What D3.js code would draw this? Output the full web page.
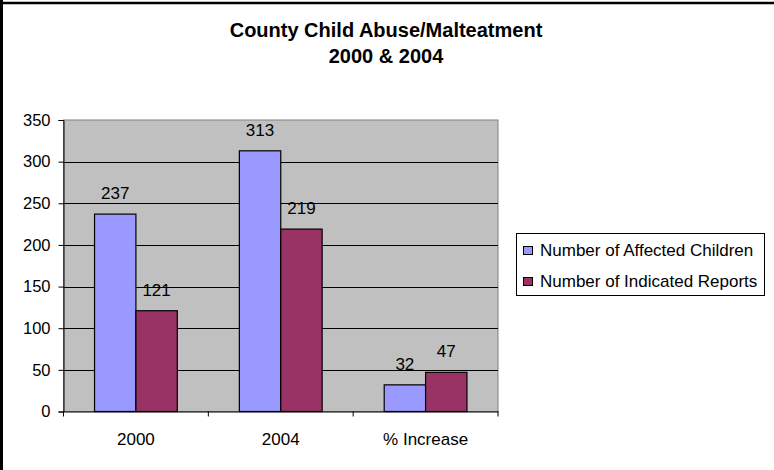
<!DOCTYPE html>
<html><head><meta charset="utf-8">
<script src="https://cdn.jsdelivr.net/npm/d3@7"></script>
<style>body{margin:0;background:#fff}svg{display:block}text{font-family:"Liberation Sans",Arial,sans-serif}</style>
</head><body><svg id="c" width="774" height="470"></svg>
<script>
const categories = ["2000", "2004", "% Increase"];
const seriesNames = ["Number of Affected Children", "Number of Indicated Reports"];
const affected = [237, 313, 32];
const indicated = [121, 219, 47];
const yTicks = [0, 50, 100, 150, 200, 250, 300, 350];
const titleLines = ["County Child Abuse/Malteatment", "2000 & 2004"];
const colors = ["#9999FF", "#993366"];

const svg = d3.select("#c");
svg.append("line").attr("x1",1.5).attr("x2",1.5).attr("y1",0).attr("y2",470).attr("stroke","#000").attr("stroke-width",3);
svg.append("line").attr("x1",0).attr("x2",774).attr("y1",3).attr("y2",3).attr("stroke","#000").attr("stroke-width",2.5);

const m = {l:63.5, r:498, t:120, b:411.5};
const x = d3.scaleBand().domain(categories).range([m.l, m.r]).paddingInner(0).paddingOuter(0);
const x1 = d3.scaleBand().domain([0,1]).range([0, x.bandwidth()]).paddingInner(0).paddingOuter(0.75);
const y = d3.scaleLinear().domain([0, 350]).range([m.b, m.t]);

svg.append("rect").attr("x",m.l).attr("y",m.t).attr("width",m.r-m.l).attr("height",m.b-m.t).attr("fill","#C0C0C0").attr("stroke","#808080").attr("stroke-width",1);

svg.append("g").selectAll("line").data(yTicks.filter(d=>d>0 && d<350)).join("line")
  .attr("x1",m.l).attr("x2",m.r).attr("y1",d=>Math.round(y(d))+0.5).attr("y2",d=>Math.round(y(d))+0.5)
  .attr("stroke","#000").attr("stroke-width",1);

const yAxis = svg.append("g").attr("transform",`translate(${m.l},0)`)
  .call(d3.axisLeft(y).tickValues(yTicks).tickSize(5).tickPadding(8));
yAxis.select(".domain").attr("stroke","#000");
yAxis.selectAll("text").attr("font-size",16.5).attr("fill","#000").attr("font-family","Liberation Sans, Arial, sans-serif");

const data = categories.map((c,i)=>({c, v:[affected[i], indicated[i]]}));
const groups = svg.append("g").selectAll("g").data(data).join("g").attr("transform",d=>`translate(${x(d.c)},0)`);
groups.selectAll("rect").data(d=>d.v.map((v,k)=>({v,k}))).join("rect")
  .attr("x",d=>x1(d.k)).attr("width",x1.bandwidth())
  .attr("y",d=>y(d.v)).attr("height",d=>m.b-y(d.v))
  .attr("fill",d=>colors[d.k]).attr("stroke","#000").attr("stroke-width",1.2);
groups.selectAll("text").data(d=>d.v.map((v,k)=>({v,k}))).join("text")
  .attr("x",d=>x1(d.k)+x1.bandwidth()/2).attr("y",d=>y(d.v)-15)
  .attr("text-anchor","middle").attr("font-size",17).attr("fill","#000").text(d=>d.v);

const xAxis = svg.append("g").attr("transform",`translate(0,${m.b})`)
  .call(d3.axisBottom(x).tickSize(0).tickPadding(21));
xAxis.select(".domain").attr("stroke","#000");
xAxis.selectAll("text").attr("font-size",17).attr("fill","#000").attr("font-family","Liberation Sans, Arial, sans-serif");
svg.append("g").selectAll("line").data(categories.map(c=>x(c)).concat([m.r])).join("line")
  .attr("x1",d=>d).attr("x2",d=>d).attr("y1",m.b).attr("y2",m.b+5).attr("stroke","#000");

svg.append("g").selectAll("text").data(titleLines).join("text")
  .attr("x",386).attr("y",(d,i)=>37+i*25.5).attr("text-anchor","middle")
  .attr("font-size",20).attr("font-weight","bold").attr("fill","#000").text(d=>d);

const lg = svg.append("g");
lg.append("rect").attr("x",516.5).attr("y",233.5).attr("width",248).attr("height",62).attr("fill","#fff").attr("stroke","#000");
const items = lg.selectAll("g").data(seriesNames).join("g").attr("transform",(d,i)=>`translate(0,${250+i*31})`);
items.append("rect").attr("x",523.5).attr("y",-3.5).attr("width",9).attr("height",8).attr("fill",(d,i)=>colors[i]).attr("stroke","#000");
items.append("text").attr("x",540).attr("y",6).attr("font-size",17).attr("fill","#000").text(d=>d);
</script></body></html>
